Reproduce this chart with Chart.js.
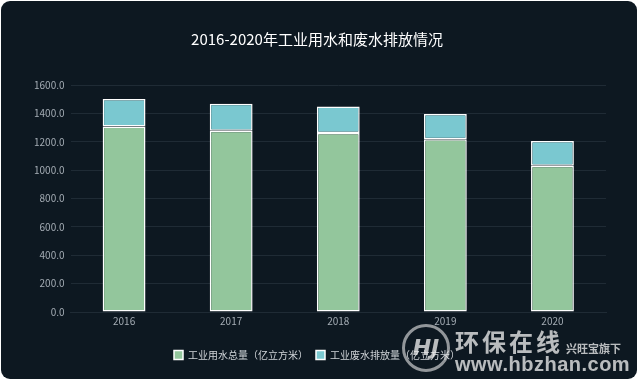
<!DOCTYPE html>
<html>
<head>
<meta charset="utf-8">
<script src="https://cdn.jsdelivr.net/npm/chart.js@4/dist/chart.umd.min.js"></script>
<style>
    html, body { margin: 0; padding: 0; background: #ffffff; }
    #panel {
        position: absolute; left: 1px; top: 1px; width: 636px; height: 378px;
        background: #0d1821; border-radius: 9px; overflow: hidden;
    }
    #wm {
        position: absolute; left: 400px; top: 318px; width: 240px; height: 62px;
        font-family: "Noto Sans CJK SC", sans-serif; color: rgba(235, 235, 235, 0.78);
        pointer-events: none;
    }
    #wm .logo {
        position: absolute; left: 2px; top: 6px; width: 42px; height: 42px;
        border: 3px solid rgba(235, 235, 235, 0.6); border-radius: 50%;
        font: italic bold 22px "DejaVu Sans", sans-serif; text-align: center; line-height: 42px;
    }
    #wm .cn { position: absolute; left: 55px; top: 9px; font-size: 24px; font-weight: bold; letter-spacing: 3px; line-height: 28px; }
    #wm .sub { position: absolute; left: 166px; top: 22px; font-size: 11px; font-weight: bold; }
    #wm .url { position: absolute; left: 55px; top: 35px; font: bold 20px "Liberation Sans", sans-serif; letter-spacing: 0.5px; }
</style>
</head>
<body>
<div id="panel"><canvas id="chart" width="636" height="378"></canvas></div>
<div id="wm">
    <div class="logo">HJ</div>
    <div class="cn">环保在线</div>
    <div class="sub">兴旺宝旗下</div>
    <div class="url">www.hbzhan.com</div>
</div>
<script>
// Données (亿立方米)
const years = ['2016', '2017', '2018', '2019', '2020'];
const waterUse = [1307, 1277, 1262, 1218, 1030];
const wasteWater = [195, 190, 186, 178, 175];
const yTicks = [0, 200, 400, 600, 800, 1000, 1200, 1400, 1600];

const ctx = document.getElementById('chart').getContext('2d');
const chart = new Chart(ctx, {
    type: 'bar',
    data: {
        labels: years,
        datasets: [
            {
                label: '工业用水总量（亿立方米）',
                data: waterUse,
                backgroundColor: '#93c69c',
                borderColor: '#ffffff',
                borderWidth: 1.5,
                borderSkipped: false,
                categoryPercentage: 0.4,
                barPercentage: 1.0
            },
            {
                label: '工业废水排放量（亿立方米）',
                data: wasteWater,
                backgroundColor: '#7ac8d0',
                borderColor: '#ffffff',
                borderWidth: 1.5,
                borderSkipped: false,
                categoryPercentage: 0.4,
                barPercentage: 1.0
            }
        ]
    },
    options: {
        responsive: false,
        animation: false,
        layout: {
            padding: { left: 27, right: 31, top: 0, bottom: 9 }
        },
        plugins: {
            title: {
                display: true,
                text: '2016-2020年工业用水和废水排放情况',
                color: '#ffffff',
                font: { family: '"Noto Sans CJK SC", sans-serif', size: 15, weight: 'normal' },
                padding: { top: 29, bottom: 37 }
            },
            legend: {
                position: 'bottom',
                labels: {
                    color: '#d0d4d8',
                    boxWidth: 9,
                    boxHeight: 9,
                    padding: 8,
                    font: { family: '"Noto Sans CJK SC", sans-serif', size: 10 }
                }
            },
            tooltip: { enabled: false }
        },
        scales: {
            x: {
                stacked: true,
                grid: { display: false, drawTicks: false },
                border: { color: '#1f2b35' },
                afterFit: axis => { axis.height += 12; },
                ticks: {
                    color: '#a4acb4',
                    font: { family: '"Noto Sans CJK SC", sans-serif', size: 10 },
                    padding: 3
                }
            },
            y: {
                stacked: true,
                min: 0,
                max: 1600,
                afterBuildTicks: axis => { axis.ticks = yTicks.map(v => ({ value: v })); },
                grid: { color: '#1f2b35', drawTicks: false },
                border: { display: false },
                ticks: {
                    color: '#a4acb4',
                    font: { family: '"Noto Sans CJK SC", sans-serif', size: 10 },
                    padding: 6,
                    callback: v => v.toFixed(1)
                }
            }
        }
    }
});
</script>
</body>
</html>
